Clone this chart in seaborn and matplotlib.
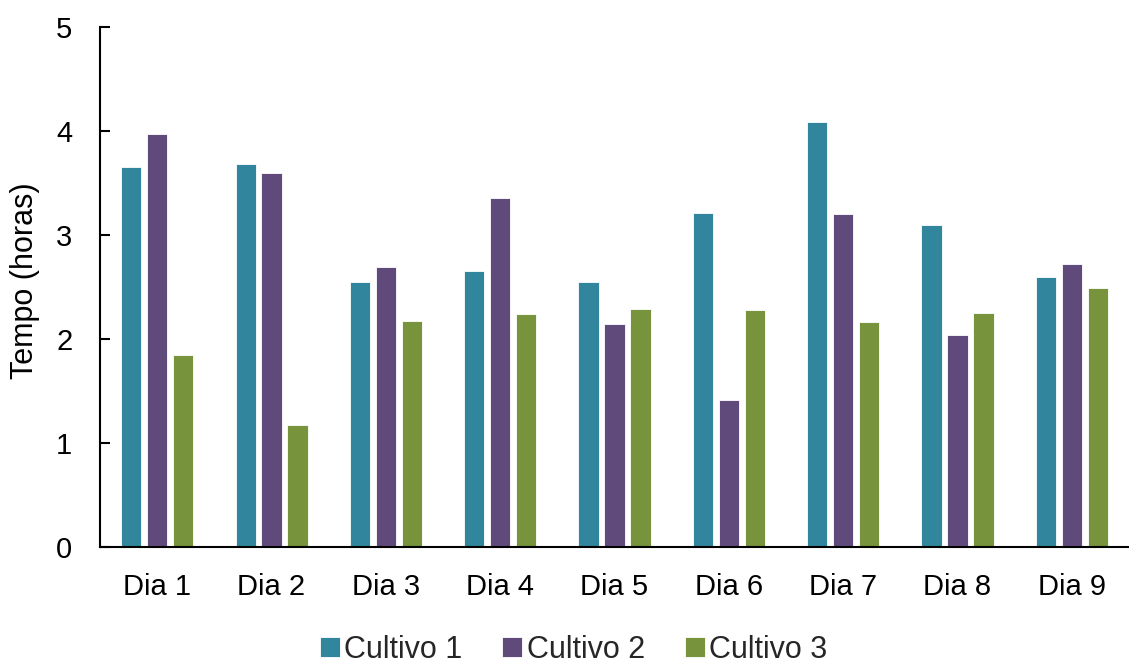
import matplotlib
matplotlib.use("Agg")
import matplotlib.pyplot as plt
import seaborn as sns
import pandas as pd

# Data
dias = ["Dia 1", "Dia 2", "Dia 3", "Dia 4", "Dia 5", "Dia 6", "Dia 7", "Dia 8", "Dia 9"]
cultivo_1 = [3.65, 3.68, 2.55, 2.65, 2.55, 3.21, 4.09, 3.10, 2.60]
cultivo_2 = [3.97, 3.60, 2.69, 3.36, 2.14, 1.41, 3.20, 2.04, 2.72]
cultivo_3 = [1.85, 1.17, 2.17, 2.24, 2.29, 2.28, 2.16, 2.25, 2.49]
series_names = ["Cultivo 1", "Cultivo 2", "Cultivo 3"]
colors = ["#31859C", "#604A7B", "#77933C"]

df = pd.DataFrame({
    "dia": dias * 3,
    "valor": cultivo_1 + cultivo_2 + cultivo_3,
    "cultivo": [s for s in series_names for _ in dias],
})

sns.set_theme(style="white")
plt.rcParams['font.family'] = ['Liberation Sans', 'DejaVu Sans']

fig, ax = plt.subplots(figsize=(11.29, 6.66), dpi=100)
fig.subplots_adjust(left=0.0886, right=1.0, bottom=0.1787, top=0.9595)

sns.barplot(data=df, x="dia", y="valor", hue="cultivo", palette=colors,
            width=0.68, gap=0.22, edgecolor="white", linewidth=0.6,
            saturation=1, ax=ax)

ax.set_ylim(0, 5)
ax.set_xlim(-0.5, len(dias) - 0.5)
ax.set_yticks([0, 1, 2, 3, 4, 5])
ax.set_xlabel("")
ax.set_ylabel("Tempo (horas)", fontsize=22, color="black")
ax.yaxis.set_label_coords(-0.058, 0.513)

# y ticks point inward in the reference
ax.tick_params(axis="y", which="major", direction="in", length=7, width=1.5,
               color="black", labelsize=21, labelcolor="black", pad=20, left=True)
ax.tick_params(axis="x", length=0, labelsize=21, labelcolor="black", pad=19)

for side in ["top", "right"]:
    ax.spines[side].set_visible(False)
for side in ["left", "bottom"]:
    ax.spines[side].set_color("black")
    ax.spines[side].set_linewidth(1.5)

handles, labels = ax.get_legend_handles_labels()
ax.legend_.remove()
fig.legend(handles, labels, loc="lower center", bbox_to_anchor=(0.508, 0.002),
           ncol=3, frameon=False, fontsize=22, handlelength=0.66, handleheight=0.6,
           handletextpad=0.14, columnspacing=1.3, borderpad=0, borderaxespad=0)

plt.savefig("out.png", dpi=100, facecolor="white")
plt.close()
